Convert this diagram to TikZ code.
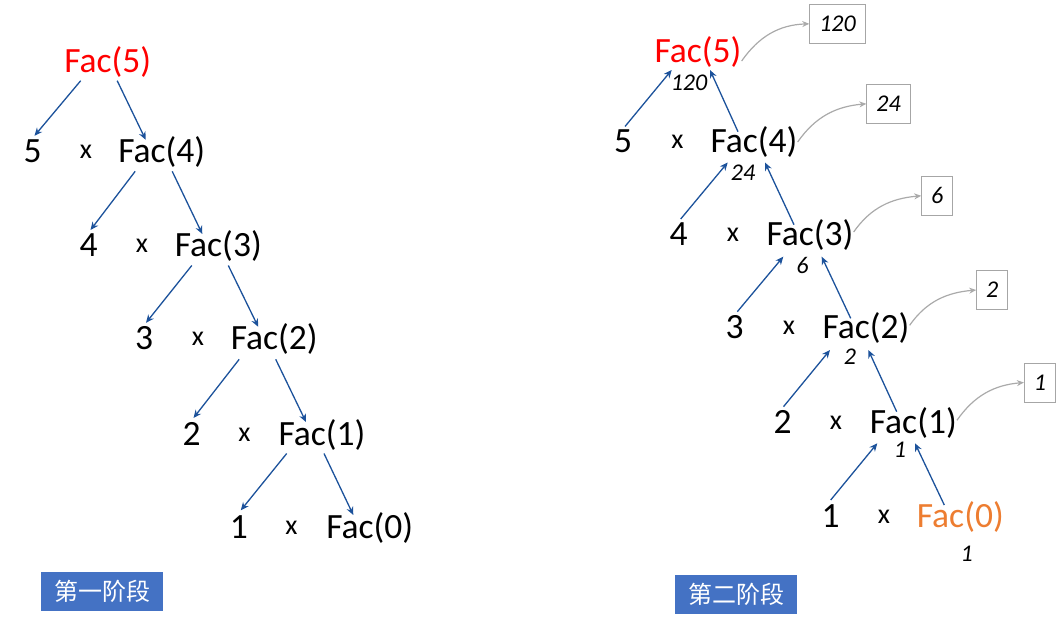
\documentclass[tikz,border=0pt]{standalone}
\usepackage{fontspec}
\setmainfont{Carlito}
\newfontfamily\cjk{Noto Sans CJK SC}
\usetikzlibrary{arrows.meta}
\definecolor{arrowblue}{RGB}{28,82,155}
\definecolor{curvegray}{RGB}{170,170,170}
\definecolor{boxgray}{RGB}{166,166,166}
\definecolor{stageblue}{RGB}{68,114,196}
\definecolor{facred}{RGB}{255,0,0}
\definecolor{facorange}{RGB}{237,125,49}
\tikzset{
  fac/.style={anchor=base, inner sep=0pt, font=\fontsize{35.5}{40}\selectfont},
  num/.style={anchor=base, inner sep=0pt, font=\fontsize{35.5}{40}\selectfont},
  times/.style={anchor=base, inner sep=0pt, font=\fontsize{28}{32}\selectfont},
  val/.style={anchor=base, inner sep=0pt, font=\fontsize{24}{28}\selectfont\itshape},
  resbox/.style={draw=boxgray, line width=1pt, inner xsep=9.5pt, inner ysep=0pt, minimum height=39pt, font=\fontsize{24}{28}\selectfont\itshape},
  stage/.style={fill=stageblue, text=white, minimum width=122pt, minimum height=39pt, inner sep=0pt, font=\cjk\fontsize{24}{28}\selectfont},
  tree/.style={draw=arrowblue, line width=1.3pt, -{Stealth[length=8pt,width=7pt]}},
  back/.style={draw=curvegray, line width=1.2pt, -{Stealth[length=7pt,width=6pt]}}
}
\begin{document}
\begin{tikzpicture}[x=1pt,y=1pt]
\useasboundingbox (0,0) rectangle (1061,-624);
% ---------- left tree ----------
\node[fac, text=facred] (L5) at (107.7,-72.7) {Fac(5)};
\node[num] (Ld5) at (32.5,-162.3) {5};
\node[times] (Lx5) at (86,-158.3) {x};
\node[fac] (L4) at (161.7,-162.3) {Fac(4)};
\node[num] (Ld4) at (88.5,-256.5) {4};
\node[times] (Lx4) at (142,-252.5) {x};
\node[fac] (L3) at (218.3,-256.5) {Fac(3)};
\node[num] (Ld3) at (144,-349.3) {3};
\node[times] (Lx3) at (198,-345.3) {x};
\node[fac] (L2) at (274.2,-349.3) {Fac(2)};
\node[num] (Ld2) at (191.5,-445) {2};
\node[times] (Lx2) at (244.5,-441) {x};
\node[fac] (L1) at (322,-445) {Fac(1)};
\node[num] (Ld1) at (238.8,-538.3) {1};
\node[times] (Lx1) at (291.5,-534.3) {x};
\node[fac] (L0) at (369.7,-538.3) {Fac(0)};
% left arrows
\draw[tree] ([xshift=-27pt,yshift=-8pt]L5.base) -- ([xshift=2pt,yshift=26.5pt]Ld5.base);
\draw[tree] ([xshift=9.5pt,yshift=-8pt]L5.base) -- ([xshift=-16pt,yshift=22.5pt]L4.base);
\draw[tree] ([xshift=-26.5pt,yshift=-9pt]L4.base) -- ([xshift=2pt,yshift=26.5pt]Ld4.base);
\draw[tree] ([xshift=10.5pt,yshift=-9pt]L4.base) -- ([xshift=-16pt,yshift=22.5pt]L3.base);
\draw[tree] ([xshift=-26.5pt,yshift=-9pt]L3.base) -- ([xshift=2pt,yshift=26.5pt]Ld3.base);
\draw[tree] ([xshift=10pt,yshift=-9pt]L3.base) -- ([xshift=-16pt,yshift=22.5pt]L2.base);
\draw[tree] ([xshift=-35pt,yshift=-10pt]L2.base) -- ([xshift=2pt,yshift=27pt]Ld2.base);
\draw[tree] ([xshift=1.5pt,yshift=-10pt]L2.base) -- ([xshift=-16pt,yshift=23pt]L1.base);
\draw[tree] ([xshift=-35.3pt,yshift=-8.5pt]L1.base) -- ([xshift=2pt,yshift=28pt]Ld1.base);
\draw[tree] ([xshift=2pt,yshift=-8.5pt]L1.base) -- ([xshift=-16.4pt,yshift=23.3pt]L0.base);
% ---------- right tree ----------
\node[fac, text=facred] (R5) at (698,-62) {Fac(5)};
\node[num] (Rd5) at (623,-152) {5};
\node[times] (Rx5) at (677.5,-148) {x};
\node[fac] (R4) at (754,-152) {Fac(4)};
\node[num] (Rd4) at (678.7,-245) {4};
\node[times] (Rx4) at (733,-241) {x};
\node[fac] (R3) at (810,-245) {Fac(3)};
\node[num] (Rd3) at (734.7,-338.3) {3};
\node[times] (Rx3) at (789,-334.3) {x};
\node[fac] (R2) at (866,-338.3) {Fac(2)};
\node[num] (Rd2) at (782.5,-433.3) {2};
\node[times] (Rx2) at (836,-429.3) {x};
\node[fac] (R1) at (913.3,-433.3) {Fac(1)};
\node[num] (Rd1) at (830.7,-527.3) {1};
\node[times] (Rx1) at (884,-523.3) {x};
\node[fac, text=facorange] (R0) at (960.3,-527.3) {Fac(0)};
% values under
\node[val] (V5) at (689,-90.7) {120};
\node[val] (V4) at (743,-180) {24};
\node[val] (V3) at (802.5,-273.3) {6};
\node[val] (V2) at (850,-364.3) {2};
\node[val] (V1) at (900,-457.5) {1};
\node[val] (V0) at (966.7,-561.7) {1};
% result boxes
\node[resbox] (B5) at (837.5,-23.8) {120};
\node[resbox] (B4) at (888.5,-103.8) {24};
\node[resbox] (B3) at (937.3,-195.8) {6};
\node[resbox] (B2) at (992.3,-290) {2};
\node[resbox] (B1) at (1040,-382.5) {1};
% right arrows (upward)
\draw[tree] ([xshift=2pt,yshift=25.5pt]Rd5.base) -- ([xshift=-26.3pt,yshift=-8pt]R5.base);
\draw[tree] ([xshift=-16pt,yshift=20.3pt]R4.base) -- ([xshift=12pt,yshift=-8pt]R5.base);
\draw[tree] ([xshift=2pt,yshift=26pt]Rd4.base) -- ([xshift=-26.3pt,yshift=-10.5pt]R4.base);
\draw[tree] ([xshift=-16pt,yshift=20.3pt]R3.base) -- ([xshift=11pt,yshift=-10.5pt]R4.base);
\draw[tree] ([xshift=2.6pt,yshift=26.6pt]Rd3.base) -- ([xshift=-26.7pt,yshift=-11.7pt]R3.base);
\draw[tree] ([xshift=-15.3pt,yshift=20pt]R2.base) -- ([xshift=11.7pt,yshift=-11.7pt]R3.base);
\draw[tree] ([xshift=1pt,yshift=26.6pt]Rd2.base) -- ([xshift=-36pt,yshift=-11.7pt]R2.base);
\draw[tree] ([xshift=-16.6pt,yshift=21.6pt]R1.base) -- ([xshift=2.3pt,yshift=-11.7pt]R2.base);
\draw[tree] ([xshift=0pt,yshift=27.3pt]Rd1.base) -- ([xshift=-36pt,yshift=-10pt]R1.base);
\draw[tree] ([xshift=-16pt,yshift=22.3pt]R0.base) -- ([xshift=1.7pt,yshift=-10pt]R1.base);
% gray return curves
\draw[back] ([yshift=1pt]R5.base east) to[out=55,in=182] (B5.west);
\draw[back] ([yshift=10pt]R4.base east) to[out=55,in=185] (B4.west);
\draw[back] ([yshift=13pt]R3.base east) to[out=55,in=185] (B3.west);
\draw[back] ([yshift=13pt]R2.base east) to[out=55,in=185] (B2.west);
\draw[back] ([yshift=13pt]R1.base east) to[out=55,in=185] (B1.west);
% stage labels
\node[stage] (S1) at (102,-591.5) {第一阶段};
\node[stage] (S2) at (736,-594.5) {第二阶段};
\end{tikzpicture}
\end{document}
